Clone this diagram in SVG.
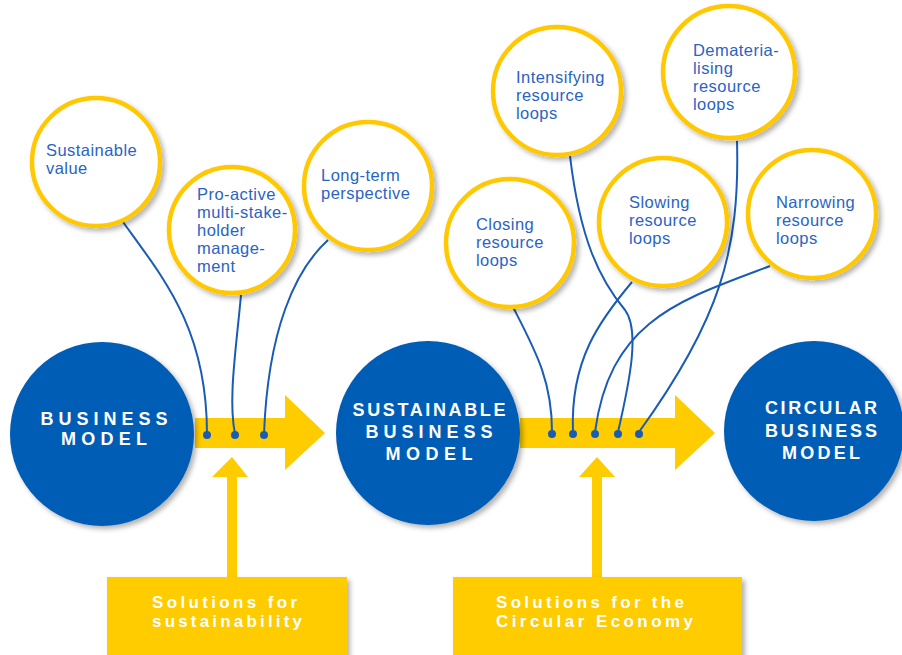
<svg xmlns="http://www.w3.org/2000/svg" width="902" height="655" viewBox="0 0 902 655">
<defs>
<filter id="sh" x="-20%" y="-20%" width="150%" height="150%">
<feDropShadow dx="3" dy="3" stdDeviation="2.5" flood-color="#000" flood-opacity="0.3"/>
</filter>
<style>
.big{fill:#065db6;filter:url(#sh)}
.bt{fill:#fff;font-family:"Liberation Sans",Arial,sans-serif;font-weight:bold;font-size:18px;text-anchor:middle}
.sm{fill:#fff;stroke:#ffc800;stroke-width:4.5;filter:url(#sh)}
.st{fill:#2a63c5;font-family:"Liberation Sans",Arial,sans-serif;font-size:16.5px;letter-spacing:0.45px}
.arr{fill:#ffcc00}
.box{fill:#ffcc00;filter:url(#sh)}
.xt{fill:#fff;font-family:"Liberation Sans",Arial,sans-serif;font-weight:bold;font-size:17px}
.ln{fill:none;stroke:#1a5cb4;stroke-width:2}
.dot{fill:#1a5cb4}
</style>
</defs>
<rect width="902" height="655" fill="#fff"/>

<g id="arrows">
<polygon class="arr" points="195,418 285,418 285,395 325,433 285,470 285,448 195,448"/>
<polygon class="arr" points="520,418 675,418 675,395 715,433 675,470 675,448 520,448"/>
<polygon class="arr" points="227,578 227,477 212,477 232,457 248,477 237,477 237,578"/>
<polygon class="arr" points="592,578 592,477 579,477 597,457 615,477 602,477 602,578"/>
</g>

<g id="node-business-model">
<circle class="big" cx="102" cy="434" r="92"/>
<text class="bt" x="104" y="425" textLength="127" lengthAdjust="spacing">BUSINESS</text>
<text class="bt" x="104" y="445" textLength="86" lengthAdjust="spacing">MODEL</text>
</g>
<g id="node-sustainable-business-model">
<circle class="big" cx="428" cy="433" r="92"/>
<text class="bt" x="429" y="416" textLength="153" lengthAdjust="spacing">SUSTAINABLE</text>
<text class="bt" x="429" y="438" textLength="127" lengthAdjust="spacing">BUSINESS</text>
<text class="bt" x="429" y="460" textLength="87" lengthAdjust="spacing">MODEL</text>
</g>
<g id="node-circular-business-model">
<circle class="big" cx="814" cy="431" r="90"/>
<text class="bt" x="821" y="414" textLength="112" lengthAdjust="spacing">CIRCULAR</text>
<text class="bt" x="821" y="437" textLength="112" lengthAdjust="spacing">BUSINESS</text>
<text class="bt" x="821" y="459" textLength="78" lengthAdjust="spacing">MODEL</text>
</g>

<g id="connectors">
<path class="ln" d="M123,222 C165,280 207,330 207,434"/>
<path class="ln" d="M241,295 C236,350 228,400 235,434"/>
<path class="ln" d="M328,240 C295,270 268,330 264,434"/>
<path class="ln" d="M513,307 C535,350 552,380 552,432"/>
<path class="ln" d="M632,282 C600,320 570,360 573,432"/>
<path class="ln" d="M770,266 C680,300 610,320 595,432"/>
<path class="ln" d="M570,156 C580,240 600,280 625,310 C640,330 630,380 618,432"/>
<path class="ln" d="M737,141 C740,250 720,320 639,432"/>
<circle class="dot" cx="207" cy="435" r="4"/>
<circle class="dot" cx="235" cy="435" r="4"/>
<circle class="dot" cx="264" cy="435" r="4"/>
<circle class="dot" cx="552" cy="434" r="4"/>
<circle class="dot" cx="573" cy="434" r="4"/>
<circle class="dot" cx="595" cy="434" r="4"/>
<circle class="dot" cx="618" cy="434" r="4"/>
<circle class="dot" cx="639" cy="434" r="4"/>
</g>

<g id="node-sustainable-value">
<circle class="sm" cx="96" cy="162" r="64"/>
<text class="st" x="46" y="156">Sustainable</text>
<text class="st" x="46" y="174">value</text>
</g>
<g id="node-pro-active">
<circle class="sm" cx="232" cy="230" r="63"/>
<text class="st" x="197" y="200">Pro-active</text>
<text class="st" x="197" y="218">multi-stake-</text>
<text class="st" x="197" y="236">holder</text>
<text class="st" x="197" y="254">manage-</text>
<text class="st" x="197" y="272">ment</text>
</g>
<g id="node-long-term">
<circle class="sm" cx="368" cy="186" r="64"/>
<text class="st" x="321" y="181">Long-term</text>
<text class="st" x="321" y="199">perspective</text>
</g>
<g id="node-intensifying">
<circle class="sm" cx="557" cy="91" r="64"/>
<text class="st" x="516" y="83">Intensifying</text>
<text class="st" x="516" y="101">resource</text>
<text class="st" x="516" y="119">loops</text>
</g>
<g id="node-dematerialising">
<circle class="sm" cx="729" cy="72" r="66"/>
<text class="st" x="693" y="56">Demateria-</text>
<text class="st" x="693" y="74">lising</text>
<text class="st" x="693" y="92">resource</text>
<text class="st" x="693" y="110">loops</text>
</g>
<g id="node-closing">
<circle class="sm" cx="510" cy="243" r="64"/>
<text class="st" x="476" y="230">Closing</text>
<text class="st" x="476" y="248">resource</text>
<text class="st" x="476" y="266">loops</text>
</g>
<g id="node-slowing">
<circle class="sm" cx="663" cy="222" r="64"/>
<text class="st" x="629" y="208">Slowing</text>
<text class="st" x="629" y="226">resource</text>
<text class="st" x="629" y="244">loops</text>
</g>
<g id="node-narrowing">
<circle class="sm" cx="812" cy="214" r="64"/>
<text class="st" x="776" y="208">Narrowing</text>
<text class="st" x="776" y="226">resource</text>
<text class="st" x="776" y="244">loops</text>
</g>

<g id="node-solutions-sustainability">
<rect class="box" x="107" y="577" width="240" height="82"/>
<text class="xt" x="152" y="608" textLength="145" lengthAdjust="spacing">Solutions for</text>
<text class="xt" x="152" y="627" textLength="150" lengthAdjust="spacing">sustainability</text>
</g>
<g id="node-solutions-circular">
<rect class="box" x="453" y="577" width="289" height="82"/>
<text class="xt" x="496" y="608" textLength="188" lengthAdjust="spacing">Solutions for the</text>
<text class="xt" x="496" y="627" textLength="197" lengthAdjust="spacing">Circular Economy</text>
</g>
</svg>
